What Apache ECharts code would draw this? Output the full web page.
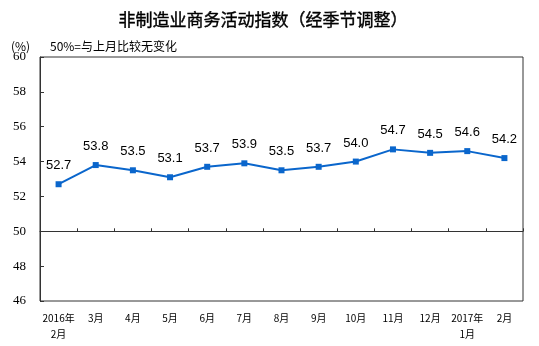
<!DOCTYPE html>
<html><head><meta charset="utf-8">
<script src="https://cdn.jsdelivr.net/npm/echarts@6/dist/echarts.min.js"></script>
<style>html,body{margin:0;padding:0;background:#fff}#c{width:539px;height:346px}</style>
</head><body><div id="c"></div>
<script>
var categories = ['2016年\n2月','3月','4月','5月','6月','7月','8月','9月','10月','11月','12月','2017年\n1月','2月'];
var values = [52.7, 53.8, 53.5, 53.1, 53.7, 53.9, 53.5, 53.7, 54.0, 54.7, 54.5, 54.6, 54.2];
var yMin = 46, yMax = 60, yStep = 2, baseLine = 50;
var titleText = '非制造业商务活动指数（经季节调整）';
var unitText = '(%)';
var noteText = '50%=与上月比较无变化';

var gridTop = 57, gridBottom = 45, gridH = 346 - gridTop - gridBottom;
var chart = echarts.init(document.getElementById('c'));
chart.setOption({
  animation: false,
  title: [
    {text: titleText, left: 258, textAlign: 'center', top: 6,
     textStyle: {fontSize: 17, fontWeight: 'normal', color: '#000', fontFamily: 'Noto Sans CJK SC',
       textBorderColor: '#000', textBorderWidth: 0.4}},
    {text: unitText, left: 6, top: 35, textStyle: {fontSize: 12, fontWeight: 'normal', color: '#000', fontFamily: 'Noto Sans CJK SC'}},
    {text: noteText, left: 45, top: 35, textStyle: {fontSize: 12, fontWeight: 'normal', color: '#000', fontFamily: 'Noto Sans CJK SC'}}
  ],
  grid: {left: 40, right: 16, top: gridTop, bottom: gridBottom, show: true, borderColor: '#333', borderWidth: 1, backgroundColor: 'transparent'},
  xAxis: [
    {type: 'category', data: categories, boundaryGap: true, position: 'bottom',
     axisLine: {show: false}, axisTick: {show: false},
     axisLabel: {interval: 0, fontSize: 10, color: '#000', fontFamily: 'Noto Sans CJK SC', margin: 9, lineHeight: 16}},
    {type: 'category', data: categories, boundaryGap: true, position: 'bottom',
     offset: -gridH * (baseLine - yMin) / (yMax - yMin),
     axisLine: {show: true, lineStyle: {color: '#333', width: 1}},
     axisTick: {show: true, inside: true, length: 3, interval: function(i){return i > 0;}, lineStyle: {color: '#333'}},
     axisLabel: {show: false}}
  ],
  yAxis: {type: 'value', min: yMin, max: yMax, interval: yStep,
    axisLine: {show: true, lineStyle: {color: '#333'}},
    axisTick: {show: true, inside: true, length: 4, lineStyle: {color: '#333'}},
    splitLine: {show: false},
    axisLabel: {fontSize: 13, color: '#000', fontFamily: 'Liberation Serif', margin: 14}},
  series: [{
    type: 'line', data: values, xAxisIndex: 0,
    symbol: 'rect', symbolSize: 6,
    lineStyle: {color: '#0a66cc', width: 2},
    itemStyle: {color: '#0a66cc'},
    label: {show: true, position: 'top', distance: 9, fontSize: 13, color: '#000', fontFamily: 'Liberation Sans',
      formatter: function(p){return p.value.toFixed(1);}}
  }]
});
</script></body></html>
